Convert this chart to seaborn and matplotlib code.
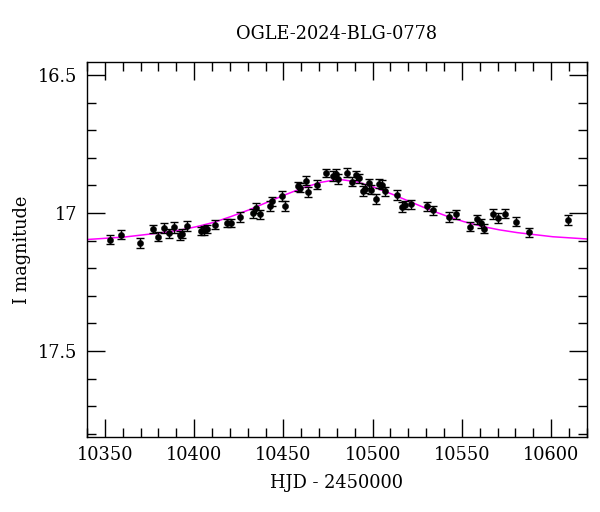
import numpy as np
import pandas as pd
import matplotlib
matplotlib.use("Agg")
import matplotlib.pyplot as plt
import seaborn as sns
from matplotlib.ticker import MultipleLocator, FuncFormatter

# Datos (HJD - 2450000, magnitud I, error)
hjd = [10352.9, 10358.9, 10369.9, 10377.0, 10379.8, 10382.9, 10385.8, 10388.8,
       10392.1, 10393.5, 10395.9, 10403.9, 10405.5, 10407.2, 10411.7, 10418.7,
       10420.7, 10425.7, 10432.8, 10434.8, 10436.9, 10442.8, 10443.7, 10449.4,
       10450.7, 10458.1, 10459.2, 10462.6, 10463.7, 10468.6, 10473.8, 10477.8,
       10479.5, 10480.6, 10485.8, 10488.5, 10490.7, 10492.5, 10494.6, 10495.6,
       10497.8, 10499.2, 10501.7, 10503.4, 10505.3, 10506.8, 10513.8, 10516.7,
       10518.3, 10521.5, 10530.4, 10533.6, 10542.6, 10546.6, 10554.6, 10558.5,
       10560.6, 10562.5, 10567.4, 10570.4, 10574.4, 10580.5, 10587.5, 10609.4]
mag = [17.097, 17.079, 17.109, 17.058, 17.086, 17.053, 17.074, 17.051,
       17.080, 17.075, 17.046, 17.066, 17.063, 17.058, 17.043, 17.035,
       17.035, 17.014, 17.001, 16.981, 17.005, 16.975, 16.958, 16.937,
       16.973, 16.904, 16.908, 16.883, 16.925, 16.898, 16.855, 16.865,
       16.858, 16.878, 16.854, 16.886, 16.864, 16.874, 16.921, 16.912,
       16.892, 16.916, 16.949, 16.894, 16.898, 16.921, 16.936, 16.979,
       16.971, 16.969, 16.975, 16.990, 17.014, 17.005, 17.050, 17.023,
       17.038, 17.057, 17.002, 17.019, 17.002, 17.032, 17.070, 17.027]
err = [0.016, 0.016, 0.018, 0.016, 0.016, 0.018, 0.016, 0.020,
       0.016, 0.016, 0.018, 0.015, 0.015, 0.015, 0.016, 0.015,
       0.015, 0.018, 0.016, 0.018, 0.016, 0.018, 0.016, 0.018,
       0.018, 0.016, 0.016, 0.016, 0.018, 0.016, 0.016, 0.018,
       0.018, 0.018, 0.016, 0.018, 0.016, 0.016, 0.018, 0.016,
       0.016, 0.016, 0.018, 0.016, 0.016, 0.016, 0.018, 0.018,
       0.016, 0.016, 0.016, 0.016, 0.018, 0.016, 0.016, 0.016,
       0.016, 0.016, 0.018, 0.018, 0.016, 0.016, 0.016, 0.018]

# Curva del modelo
modelo_hjd = [10340, 10361, 10381, 10392, 10401, 10411, 10421, 10431, 10441,
              10451, 10461, 10471, 10481, 10491, 10501, 10511, 10521, 10531,
              10541, 10551, 10561, 10571, 10581, 10601, 10620]
modelo_mag = [17.096, 17.087, 17.072, 17.062, 17.050, 17.034, 17.012, 16.988,
              16.961, 16.934, 16.909, 16.889, 16.878, 16.887, 16.907, 16.932,
              16.959, 16.986, 17.010, 17.031, 17.048, 17.061, 17.071, 17.086,
              17.094]

titulo = "OGLE-2024-BLG-0778"

df = pd.DataFrame({"HJD": hjd, "I": mag, "err": err})
modelo = pd.DataFrame({"HJD": modelo_hjd, "I": modelo_mag})

sns.set_theme(style="ticks")
plt.rcParams['font.family'] = ['DejaVu Serif']
plt.rcParams['mathtext.fontset'] = 'dejavuserif'
plt.rcParams['text.color'] = 'black'
plt.rcParams['axes.labelcolor'] = 'black'

fs = 12.8

fig = plt.figure(figsize=(6, 5.12), dpi=100)
ax = fig.add_axes([0.145, 0.147, 0.833, 0.731])

# Curva del modelo
sns.lineplot(data=modelo, x="HJD", y="I", ax=ax, color="#ff00ff",
             linewidth=1.1, zorder=1)

# Barras de error y puntos
ax.errorbar(df["HJD"], df["I"], yerr=df["err"], fmt="none", ecolor="black",
            elinewidth=1.0, capsize=3.2, capthick=1.0, zorder=2)
sns.scatterplot(data=df, x="HJD", y="I", ax=ax, color="black", s=20,
                edgecolor="black", linewidth=0.3, zorder=3)

ax.set_xlim(10340, 10620)
ax.set_ylim(17.81, 16.455)

ax.xaxis.set_major_locator(MultipleLocator(50))
ax.xaxis.set_minor_locator(MultipleLocator(10))
ax.yaxis.set_major_locator(MultipleLocator(0.5))
ax.yaxis.set_minor_locator(MultipleLocator(0.1))
ax.yaxis.set_major_formatter(FuncFormatter(lambda v, p: f"{v:g}"))

ax.tick_params(which="both", direction="in", top=True, right=True,
               colors="black", labelcolor="black", labelsize=fs, width=1.0)
ax.tick_params(which="major", length=13, pad=7)
ax.tick_params(which="minor", length=6.5)

for s in ax.spines.values():
    s.set_linewidth(1.0)
    s.set_color("black")

ax.set_xlabel("HJD - 2450000", fontsize=fs, labelpad=7, color="black")
ax.set_ylabel("I magnitude", fontsize=fs, labelpad=5, color="black")
ax.set_title(titulo, fontsize=fs, pad=17, color="black")

fig.savefig("out.png", dpi=100)
